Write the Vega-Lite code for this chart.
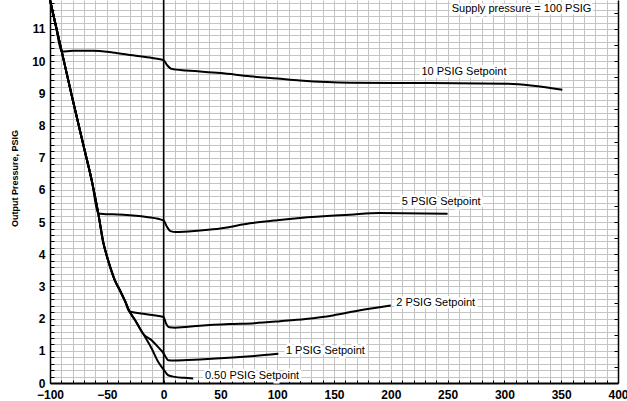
{
  "$schema": "https://vega.github.io/schema/vega-lite/v6.json",
  "width": 568,
  "height": 383,
  "autosize": {"type": "none"},
  "padding": {"left": 50, "top": 0, "right": 9, "bottom": 18},
  "background": "white",
  "config": {
    "view": {"stroke": null},
    "axis": {"labelFont": "Liberation Sans", "labelFontWeight": "bold", "labelFontSize": 12, "labelColor": "black", "titleFont": "Liberation Sans", "titleColor": "black", "labelOverlap": false}
  },
  "datasets": {
    "curves": [
      {"series": "10", "x": -100, "y": 11.9}, {"series": "10", "x": -95, "y": 11.12}, {"series": "10", "x": -89.7, "y": 10.3},
      {"series": "10", "x": -80, "y": 10.32}, {"series": "10", "x": -62, "y": 10.32}, {"series": "10", "x": -45, "y": 10.27},
      {"series": "10", "x": -27, "y": 10.18}, {"series": "10", "x": -10, "y": 10.1}, {"series": "10", "x": 0, "y": 10.03},
      {"series": "10", "x": 3, "y": 9.88}, {"series": "10", "x": 7, "y": 9.76}, {"series": "10", "x": 20, "y": 9.71},
      {"series": "10", "x": 32, "y": 9.68}, {"series": "10", "x": 50, "y": 9.63}, {"series": "10", "x": 76, "y": 9.53},
      {"series": "10", "x": 100, "y": 9.46}, {"series": "10", "x": 120, "y": 9.4}, {"series": "10", "x": 164, "y": 9.33},
      {"series": "10", "x": 234, "y": 9.32}, {"series": "10", "x": 302, "y": 9.3}, {"series": "10", "x": 351, "y": 9.11},

      {"series": "5", "x": -100, "y": 11.9}, {"series": "5", "x": -90, "y": 10.35}, {"series": "5", "x": -80, "y": 8.8},
      {"series": "5", "x": -70, "y": 7.3}, {"series": "5", "x": -63, "y": 6.25}, {"series": "5", "x": -57.5, "y": 5.27},
      {"series": "5", "x": -45, "y": 5.24}, {"series": "5", "x": -35.5, "y": 5.23}, {"series": "5", "x": -15, "y": 5.16},
      {"series": "5", "x": 0, "y": 5.05}, {"series": "5", "x": 3, "y": 4.85}, {"series": "5", "x": 6, "y": 4.72},
      {"series": "5", "x": 11, "y": 4.69}, {"series": "5", "x": 32, "y": 4.74}, {"series": "5", "x": 50, "y": 4.8},
      {"series": "5", "x": 76, "y": 4.96}, {"series": "5", "x": 100, "y": 5.06}, {"series": "5", "x": 120, "y": 5.13},
      {"series": "5", "x": 164, "y": 5.23}, {"series": "5", "x": 190, "y": 5.28}, {"series": "5", "x": 250, "y": 5.26},

      {"series": "2", "x": -100, "y": 11.9}, {"series": "2", "x": -90, "y": 10.35}, {"series": "2", "x": -80, "y": 8.8},
      {"series": "2", "x": -70, "y": 7.3}, {"series": "2", "x": -63, "y": 6.25}, {"series": "2", "x": -57.5, "y": 5.27},
      {"series": "2", "x": -53, "y": 4.35}, {"series": "2", "x": -50, "y": 3.95}, {"series": "2", "x": -47, "y": 3.6},
      {"series": "2", "x": -43, "y": 3.2}, {"series": "2", "x": -38.5, "y": 2.88}, {"series": "2", "x": -34, "y": 2.55},
      {"series": "2", "x": -30, "y": 2.22}, {"series": "2", "x": -20, "y": 2.16}, {"series": "2", "x": -10, "y": 2.11},
      {"series": "2", "x": 0, "y": 2.05}, {"series": "2", "x": 2, "y": 1.86}, {"series": "2", "x": 5, "y": 1.73},
      {"series": "2", "x": 10, "y": 1.72}, {"series": "2", "x": 32, "y": 1.78}, {"series": "2", "x": 58, "y": 1.83},
      {"series": "2", "x": 80, "y": 1.86}, {"series": "2", "x": 102.5, "y": 1.92}, {"series": "2", "x": 125, "y": 1.99},
      {"series": "2", "x": 149, "y": 2.1}, {"series": "2", "x": 173, "y": 2.26}, {"series": "2", "x": 200, "y": 2.41},

      {"series": "1", "x": -100, "y": 11.9}, {"series": "1", "x": -90, "y": 10.35}, {"series": "1", "x": -80, "y": 8.8},
      {"series": "1", "x": -70, "y": 7.3}, {"series": "1", "x": -63, "y": 6.25}, {"series": "1", "x": -57.5, "y": 5.27},
      {"series": "1", "x": -53, "y": 4.35}, {"series": "1", "x": -50, "y": 3.95}, {"series": "1", "x": -47, "y": 3.6},
      {"series": "1", "x": -43, "y": 3.2}, {"series": "1", "x": -38.5, "y": 2.88}, {"series": "1", "x": -34, "y": 2.55},
      {"series": "1", "x": -30, "y": 2.22}, {"series": "1", "x": -25, "y": 1.95}, {"series": "1", "x": -21, "y": 1.7},
      {"series": "1", "x": -18, "y": 1.53}, {"series": "1", "x": -10.5, "y": 1.33}, {"series": "1", "x": -5, "y": 1.12},
      {"series": "1", "x": 0, "y": 0.92}, {"series": "1", "x": 2, "y": 0.8}, {"series": "1", "x": 4, "y": 0.71},
      {"series": "1", "x": 10, "y": 0.7}, {"series": "1", "x": 32, "y": 0.73}, {"series": "1", "x": 61, "y": 0.79},
      {"series": "1", "x": 80, "y": 0.84}, {"series": "1", "x": 101, "y": 0.91},

      {"series": "0.5", "x": -100, "y": 11.9}, {"series": "0.5", "x": -90, "y": 10.35}, {"series": "0.5", "x": -80, "y": 8.8},
      {"series": "0.5", "x": -70, "y": 7.3}, {"series": "0.5", "x": -63, "y": 6.25}, {"series": "0.5", "x": -57.5, "y": 5.27},
      {"series": "0.5", "x": -53, "y": 4.35}, {"series": "0.5", "x": -50, "y": 3.95}, {"series": "0.5", "x": -47, "y": 3.6},
      {"series": "0.5", "x": -43, "y": 3.2}, {"series": "0.5", "x": -38.5, "y": 2.88}, {"series": "0.5", "x": -34, "y": 2.55},
      {"series": "0.5", "x": -30, "y": 2.22}, {"series": "0.5", "x": -25, "y": 1.95}, {"series": "0.5", "x": -21, "y": 1.7},
      {"series": "0.5", "x": -18, "y": 1.53}, {"series": "0.5", "x": -10.5, "y": 1.07}, {"series": "0.5", "x": -4.7, "y": 0.65},
      {"series": "0.5", "x": 0, "y": 0.42}, {"series": "0.5", "x": 4, "y": 0.24}, {"series": "0.5", "x": 10, "y": 0.19},
      {"series": "0.5", "x": 18, "y": 0.16}, {"series": "0.5", "x": 26, "y": 0.14}
    ],
    "labels": [
      {"text": "Supply pressure = 100 PSIG", "x": 253.6, "y": 11.62},
      {"text": "10 PSIG Setpoint", "x": 227, "y": 9.66},
      {"text": "5 PSIG Setpoint", "x": 209.6, "y": 5.62},
      {"text": "2 PSIG Setpoint", "x": 204.8, "y": 2.48},
      {"text": "1 PSIG Setpoint", "x": 107.7, "y": 0.98},
      {"text": "0.50 PSIG Setpoint", "x": 36.4, "y": 0.21}
    ]
  },
  "resolve": {"axis": {"x": "independent", "y": "independent"}},
  "layer": [
    {
      "data": {"name": "curves"},
      "mark": {"type": "line", "color": "black", "strokeWidth": 2, "interpolate": "monotone"},
      "encoding": {
        "x": {"field": "x", "type": "quantitative",
          "scale": {"domain": [-100, 400], "nice": false, "zero": false},
          "axis": {"orient": "bottom", "title": null, "labels": false, "values": [-100,-90,-80,-70,-60,-50,-40,-30,-20,-10,0,10,20,30,40,50,60,70,80,90,100,110,120,130,140,150,160,170,180,190,200,210,220,230,240,250,260,270,280,290,300,310,320,330,340,350,360,370,380,390,400],
            "grid": true, "gridColor": "#c4c4c4", "gridWidth": 1, "gridOpacity": 1,
            "domainColor": "black", "domainWidth": 2, "tickColor": "black", "tickSize": -3}},
        "y": {"field": "y", "type": "quantitative",
          "scale": {"domain": [0, 11.9], "nice": false},
          "axis": {"orient": "left", "title": "Output Pressure, PSIG", "titleFontSize": 9, "titleFontWeight": "bold", "titleX": -36, "titleY": 178, "titleAngle": 270, "titleAlign": "center", "titleBaseline": "middle",
            "labels": false,
            "values": [0,0.2,0.4,0.6,0.8,1,1.2,1.4,1.6,1.8,2,2.2,2.4,2.6,2.8,3,3.2,3.4,3.6,3.8,4,4.2,4.4,4.6,4.8,5,5.2,5.4,5.6,5.8,6,6.2,6.4,6.6,6.8,7,7.2,7.4,7.6,7.8,8,8.2,8.4,8.6,8.8,9,9.2,9.4,9.6,9.8,10,10.2,10.4,10.6,10.8,11,11.2,11.4,11.6,11.8],
            "grid": true, "gridColor": "#c4c4c4", "gridWidth": 1, "gridOpacity": 1,
            "domainColor": "black", "domainWidth": 1.5, "tickColor": "black", "tickSize": -4}},
        "detail": {"field": "series", "type": "nominal"}
      }
    },
    {
      "data": {"values": [{}]},
      "mark": {"type": "rule", "color": "black", "strokeWidth": 1.5},
      "encoding": {"x": {"datum": 0, "type": "quantitative", "axis": null}}
    },
    {
      "data": {"name": "labels"},
      "mark": {"type": "text", "align": "left", "baseline": "middle", "font": "Liberation Sans", "fontSize": 11, "stroke": "white", "strokeWidth": 5, "fill": "white"},
      "encoding": {
        "x": {"field": "x", "type": "quantitative",
          "axis": {"orient": "bottom", "title": null, "values": [-100, -50, 0, 50, 100, 150, 200, 250, 300, 350, 400], "grid": false, "domain": false, "ticks": false,
            "labelPadding": 6, "labelFontSize": 12, "labelFontWeight": "bold", "labelFlush": false, "labelBound": false, "labelOverlap": false}},
        "y": {"field": "y", "type": "quantitative",
          "axis": {"orient": "left", "title": null, "values": [0, 1, 2, 3, 4, 5, 6, 7, 8, 9, 10, 11], "grid": false, "domain": false, "ticks": false,
            "labelPadding": 5, "labelFontSize": 12, "labelFontWeight": "bold", "labelFlush": false, "labelBound": false, "labelOverlap": false}},
        "text": {"field": "text"}
      }
    },
    {
      "data": {"name": "labels"},
      "mark": {"type": "text", "align": "left", "baseline": "middle", "font": "Liberation Sans", "fontSize": 11, "color": "black"},
      "encoding": {
        "x": {"field": "x", "type": "quantitative", "axis": null},
        "y": {"field": "y", "type": "quantitative",
          "axis": {"orient": "right", "title": null, "labels": false, "grid": false, "domainColor": "black", "domainWidth": 1.5, "tickColor": "black", "tickSize": -4,
            "values": [0.5,1,1.5,2,2.5,3,3.5,4,4.5,5,5.5,6,6.5,7,7.5,8,8.5,9,9.5,10,10.5,11,11.5]}},
        "text": {"field": "text"}
      }
    }
  ]
}
